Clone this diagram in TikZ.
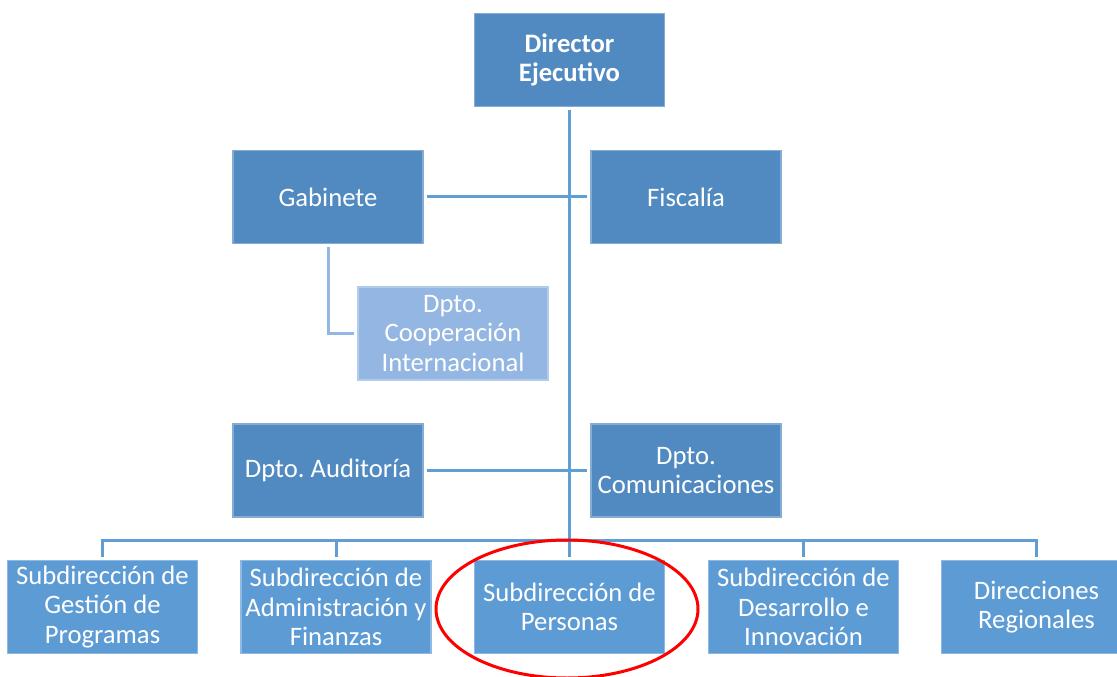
\documentclass[tikz,border=0pt]{standalone}
\usepackage{fontspec}
\setmainfont{Carlito}
\frenchspacing
\definecolor{boxdark}{RGB}{81,138,193}
\definecolor{boxmid}{RGB}{93,155,213}
\definecolor{boxlight}{RGB}{148,182,226}
\definecolor{linemid}{RGB}{98,158,214}
\def\pxl{0.75pt}

\begin{document}
\begin{tikzpicture}[x=0.75pt, y=-0.75pt,
	unit/.style={rectangle, minimum width=190*\pxl, minimum height=93*\pxl, inner sep=0pt,
		align=center, text=white, font=\fontsize{20}{22}\selectfont},
	dark/.style={unit, fill=boxdark, draw=boxdark!70!white, line width=0.8pt},
	mid/.style={unit, fill=boxmid, draw=boxmid!70!white, line width=0.8pt},
	light/.style={unit, fill=boxlight, draw=boxlight!70!white, line width=0.8pt},
	conn/.style={draw=linemid, line width=3*\pxl, shorten <=3*\pxl, shorten >=3*\pxl},
	softconn/.style={conn, draw=boxlight}]
	\useasboundingbox (0,0) rectangle (1117,677);
	\clip (0,0) rectangle (1117,677);

	\node[dark, font=\fontsize{20}{22}\selectfont\bfseries] (dir) at (569.5,60) {Director\\Ejecutivo};
	\node[dark] (gab) at (328,197) {Gabinete};
	\node[dark] (fis) at (686,197) {Fiscalía};
	\node[light] (coop) at (453,333.5) {Dpto.\\Cooperación\\Internacional};
	\node[dark] (aud) at (328,470.5) {Dpto. Auditoría};
	\node[dark] (com) at (686,470.5) {Dpto.\\Comunicaciones};

	\node[mid] (gest) at (102.5,607) {Subdirección de\\Gestión de\\Programas};
	\node[mid] (adm) at (336,607) {Subdirección de\\Administración y\\Finanzas};
	\node[mid] (per) at (569.5,607) {Subdirección de\\Personas};
	\node[mid] (des) at (803.5,607) {Subdirección de\\Desarrollo e\\Innovación};
	\node[mid] (reg) at (1036.5,607) {Direcciones\\Regionales};
	\coordinate (bus) at (569.5,540);

	\draw[conn] (dir) -- (per);
	\draw[conn] (gab) -- (fis);
	\draw[conn] (aud) -- (com);
	\draw[softconn] (gab) |- (coop);
	\foreach \n in {gest, adm, des, reg}
		\draw[conn, shorten <=0pt] (bus) -| (\n);

	\draw[red, line width=3*\pxl] (567,609) ellipse [x radius=131, y radius=69];
\end{tikzpicture}
\end{document}
